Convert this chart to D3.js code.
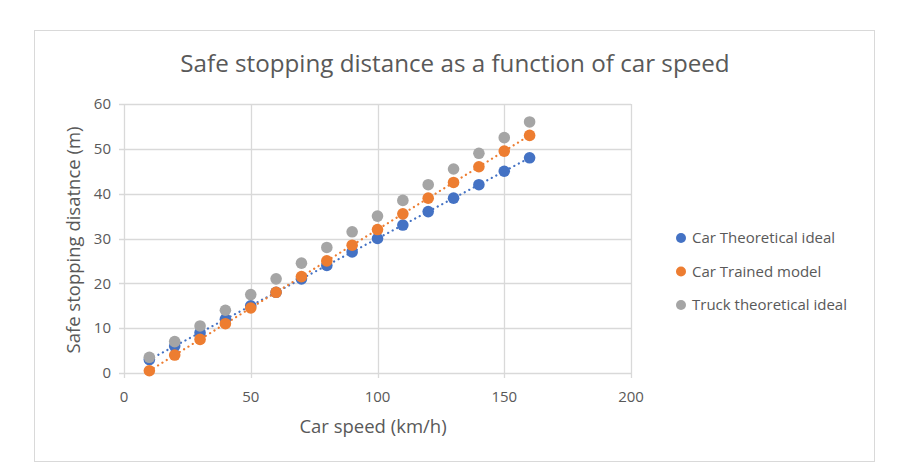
<!DOCTYPE html>
<meta charset="utf-8">
<style>
body { margin: 0; background: #fff; }
text { font-family: "Open Sans", Lato, sans-serif; fill: #595959; }
</style>
<body>
<script src="https://d3js.org/d3.v7.min.js"></script>
<script>

var speeds = [10, 20, 30, 40, 50, 60, 70, 80, 90, 100, 110, 120, 130, 140, 150, 160];
var carIdeal = [3, 6, 9, 12, 15, 18, 21, 24, 27, 30, 33, 36, 39, 42, 45, 48];
var carTrained = [0.5, 4, 7.5, 11, 14.5, 18, 21.5, 25, 28.5, 32, 35.5, 39, 42.5, 46, 49.5, 53];
var truckIdeal = [3.5, 7, 10.5, 14, 17.5, 21, 24.5, 28, 31.5, 35, 38.5, 42, 45.5, 49, 52.5, 56];
var seriesNames = ["Car Theoretical ideal", "Car Trained model", "Truck theoretical ideal"];
var xTicks = [0, 50, 100, 150, 200];
var yTicks = [0, 10, 20, 30, 40, 50, 60];

var width = 904,
    height = 466;

var series = [
  { name: seriesNames[0], values: carIdeal, color: "#4472C4", trend: true },
  { name: seriesNames[1], values: carTrained, color: "#ED7D31", trend: true },
  { name: seriesNames[2], values: truckIdeal, color: "#A5A5A5", trend: false }
];

var svg = d3.select("body").append("svg")
    .attr("width", width)
    .attr("height", height);

// chart frame
svg.append("rect")
    .attr("x", 34.5).attr("y", 30.5)
    .attr("width", 840).attr("height", 431)
    .attr("fill", "#fff")
    .attr("stroke", "#d9d9d9");

var x = d3.scaleLinear().domain([0, 200]).range([124, 631]);
var y = d3.scaleLinear().domain([0, 60]).range([373, 104]);

// gridlines
svg.append("g").selectAll("line.h")
    .data(yTicks)
  .enter().append("line")
    .attr("x1", x(0) - 5).attr("x2", x(200))
    .attr("y1", function(d) { return Math.round(y(d)) + 0.5; })
    .attr("y2", function(d) { return Math.round(y(d)) + 0.5; })
    .attr("stroke", "#d9d9d9").attr("stroke-width", 1.3);

svg.append("g").selectAll("line.v")
    .data(xTicks)
  .enter().append("line")
    .attr("x1", function(d) { return Math.round(x(d)) + 0.5; })
    .attr("x2", function(d) { return Math.round(x(d)) + 0.5; })
    .attr("y1", y(60)).attr("y2", y(0) + 5)
    .attr("stroke", "#d9d9d9").attr("stroke-width", 1.3);

// tick labels
svg.append("g").selectAll("text")
    .data(yTicks)
  .enter().append("text")
    .attr("x", x(0) - 13)
    .attr("y", function(d) { return y(d); })
    .attr("dy", "0.35em")
    .attr("text-anchor", "end")
    .style("font-size", "15px")
    .text(function(d) { return d; });

svg.append("g").selectAll("text")
    .data(xTicks)
  .enter().append("text")
    .attr("x", function(d) { return x(d); })
    .attr("y", y(0) + 24)
    .attr("dy", "0.35em")
    .attr("text-anchor", "middle")
    .style("font-size", "15px")
    .text(function(d) { return d; });

// titles
svg.append("text")
    .attr("x", 455).attr("y", 72)
    .attr("text-anchor", "middle")
    .style("font-size", "24.2px")
    .text("Safe stopping distance as a function of car speed");

svg.append("text")
    .attr("x", 373).attr("y", 433)
    .attr("text-anchor", "middle")
    .style("font-size", "18.5px")
    .text("Car speed (km/h)");

svg.append("text")
    .attr("transform", "translate(80,240) rotate(-90)")
    .attr("text-anchor", "middle")
    .style("font-size", "18.5px")
    .text("Safe stopping disatnce (m)");

// linear trendlines
series.filter(function(s) { return s.trend; }).forEach(function(s) {
  var n = speeds.length,
      mx = d3.mean(speeds),
      my = d3.mean(s.values),
      sxy = d3.sum(speeds, function(v, i) { return (v - mx) * (s.values[i] - my); }),
      sxx = d3.sum(speeds, function(v) { return (v - mx) * (v - mx); }),
      b = sxy / sxx,
      a = my - b * mx;
  var x0 = speeds[0], x1 = speeds[n - 1];
  svg.append("line")
      .attr("x1", x(x0)).attr("y1", y(a + b * x0))
      .attr("x2", x(x1)).attr("y2", y(a + b * x1))
      .attr("stroke", s.color)
      .attr("stroke-width", 2.2)
      .attr("stroke-linecap", "round")
      .attr("stroke-dasharray", "0.1,5");
});

// points
series.forEach(function(s) {
  svg.append("g").selectAll("circle")
      .data(s.values)
    .enter().append("circle")
      .attr("cx", function(d, i) { return x(speeds[i]); })
      .attr("cy", function(d) { return y(d); })
      .attr("r", 5.8)
      .attr("fill", s.color);
});

// legend
var legend = svg.append("g").selectAll("g")
    .data(series)
  .enter().append("g")
    .attr("transform", function(d, i) { return "translate(681," + (238 + i * 33.5) + ")"; });

legend.append("circle")
    .attr("r", 5)
    .attr("fill", function(d) { return d.color; });

legend.append("text")
    .attr("x", 11)
    .attr("dy", "0.35em")
    .style("font-size", "15px")
    .text(function(d) { return d.name; });

</script>
